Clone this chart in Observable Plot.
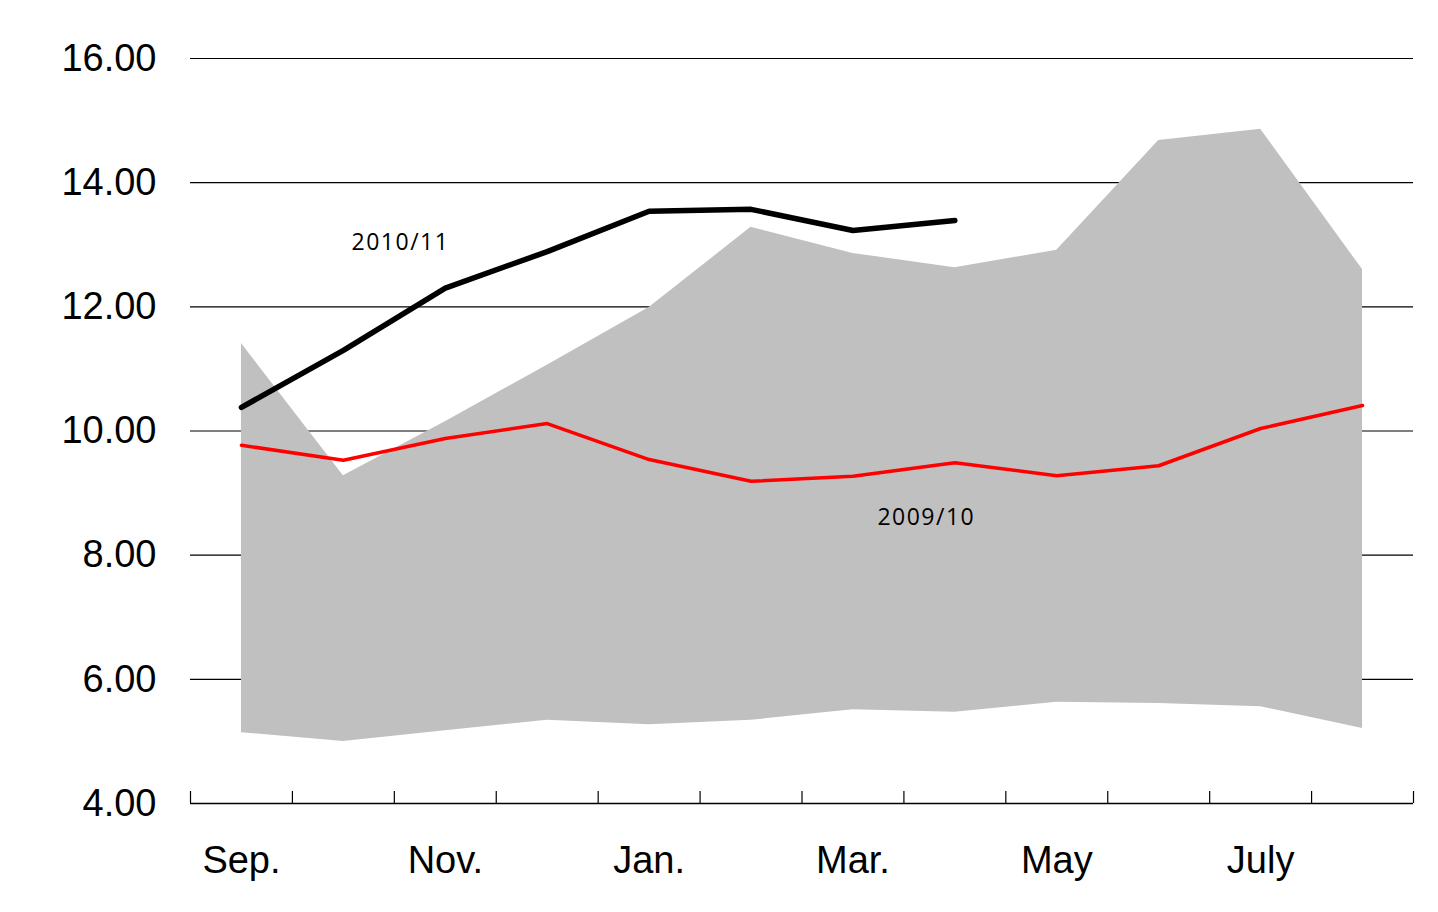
<!DOCTYPE html>
<html>
<head>
<meta charset="utf-8">
<script src="https://cdn.jsdelivr.net/npm/d3@7"></script>
<script src="https://cdn.jsdelivr.net/npm/@observablehq/plot@0.6"></script>
<style>
  html, body { margin: 0; padding: 0; background: #fff; }
  #chart svg { display: block; }
</style>
</head>
<body>
<div id="chart"></div>
<script>
const months = ["Sep.", "Oct.", "Nov.", "Dec.", "Jan.", "Feb.", "Mar.", "Apr.", "May", "June", "July", "Aug."];
const labeledMonths = ["Sep.", "Nov.", "Jan.", "Mar.", "May", "July"];
const rangeHigh = [11.41, 9.28, 10.15, 11.06, 11.99, 13.28, 12.86, 12.63, 12.91, 14.68, 14.86, 12.60];
const rangeLow  = [5.14, 5.00, 5.17, 5.34, 5.27, 5.34, 5.51, 5.47, 5.63, 5.61, 5.56, 5.21];
const s2009 = [9.77, 9.53, 9.88, 10.12, 9.54, 9.19, 9.27, 9.49, 9.28, 9.44, 10.04, 10.41];
const s2010 = [10.38, 11.30, 12.30, 12.89, 13.54, 13.57, 13.23, 13.39];
const yTicks = [4, 6, 8, 10, 12, 14, 16];
const seriesLabels = ["2010/11", "2009/10"];
const seriesLabelMonth = [1.58, 6.74];   // position in month units from the left edge
const seriesLabelValue = [13.04, 8.61];

const pos = m => months.indexOf(m) + 0.5;
const band = months.map((m, i) => ({x: pos(m), lo: rangeLow[i], hi: rangeHigh[i]}));
const red = months.map((m, i) => ({x: pos(m), y: s2009[i]}));
const black = s2010.map((v, i) => ({x: pos(months[i]), y: v}));
const labelData = seriesLabels.map((t, i) => ({label: t, x: seriesLabelMonth[i], y: seriesLabelValue[i]}));

const chart = Plot.plot({
  width: 1438,
  height: 912,
  marginLeft: 190,
  marginRight: 25,
  marginTop: 58,
  marginBottom: 109,
  style: {fontFamily: "'Liberation Sans', Arial, sans-serif", background: "#fff", overflow: "visible"},
  x: {type: "linear", domain: [0, months.length], label: null},
  y: {domain: [4, 16], label: null},
  marks: [
    Plot.gridY(yTicks.filter(t => t > 4), {stroke: "#000", strokeOpacity: 1, strokeWidth: 1.2}),
    Plot.areaY(band, {x: "x", y1: "lo", y2: "hi", fill: "#c0c0c0"}),
    Plot.ruleY([4], {stroke: "#000", strokeWidth: 1.5}),
    Plot.axisX({ticks: d3.range(months.length + 1), tickSize: -12, tickFormat: () => "", label: null, stroke: "#000", strokeWidth: 1.2}),
    Plot.axisX({ticks: labeledMonths.map(pos), tickSize: 0, tickPadding: 43, tickFormat: v => months[Math.floor(v)], label: null, fontSize: 38, fill: "#000"}),
    Plot.axisY({ticks: yTicks, tickSize: 0, tickPadding: 34, tickFormat: d => d.toFixed(2), label: null, fontSize: 38, fill: "#000"}),
    Plot.line(red, {x: "x", y: "y", stroke: "#ff0000", strokeWidth: 3.5, strokeLinejoin: "round", strokeLinecap: "round"}),
    Plot.line(black, {x: "x", y: "y", stroke: "#000", strokeWidth: 5.5, strokeLinejoin: "round", strokeLinecap: "round"}),
    Plot.text(labelData, {x: "x", y: "y", text: "label", textAnchor: "start", fontSize: 23, fontFamily: "'Open Sans', sans-serif", fill: "#000", style: "letter-spacing:1.5px"})
  ]
});
chart.querySelectorAll("text").forEach(t => { if (t.textContent === "2010/11" || t.textContent === "2009/10") t.style.letterSpacing = "1.5px"; });
document.getElementById("chart").appendChild(chart);
</script>
</body>
</html>
